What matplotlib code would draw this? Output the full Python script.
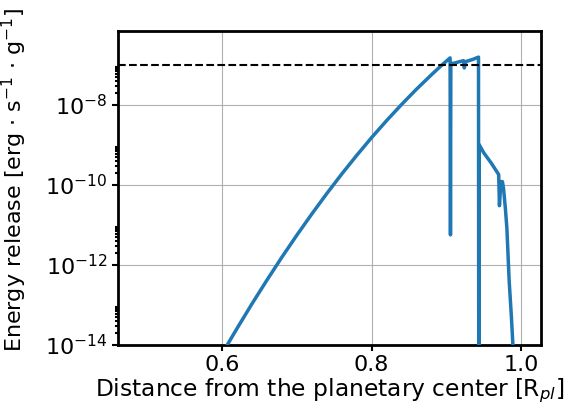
import matplotlib
matplotlib.use("Agg")
import matplotlib.pyplot as plt
from matplotlib.ticker import FixedLocator, NullFormatter

# distance from planetary center [R_pl]
distance = [0.607, 0.620, 0.640, 0.660, 0.680, 0.700, 0.720, 0.740, 0.760,
            0.780, 0.800, 0.820, 0.840, 0.860, 0.880, 0.895, 0.905,
            0.9055, 0.906, 0.911, 0.916, 0.923, 0.924, 0.926, 0.935, 0.943,
            0.9435, 0.944, 0.950, 0.960, 0.970, 0.971, 0.973, 0.975, 0.9765,
            0.979, 0.981, 0.984, 0.987, 0.989, 0.990]
# energy release [erg s^-1 g^-1]
energy = [1.0e-14, 2.57e-14, 1.06e-13, 4.14e-13, 1.55e-12, 5.5e-12, 1.86e-11, 6.0e-11, 1.85e-10,
          5.4e-10, 1.51e-9, 4.0e-9, 1.01e-8, 2.44e-8, 5.6e-8, 1.02e-7, 1.48e-7,
          5.6e-12, 1.07e-7, 1.1e-7, 1.17e-7, 1.26e-7, 8.3e-8, 1.2e-7, 1.35e-7, 1.55e-7,
          1e-20, 1.0e-9, 6.3e-10, 3.5e-10, 1.8e-10, 3.0e-11, 1.2e-10, 1.2e-10, 8.0e-11,
          2.5e-11, 8.0e-12, 4.0e-13, 5.0e-14, 1.0e-14, 1e-16]
threshold = 1e-7
x_ticks = [0.6, 0.8, 1.0]

fig, ax = plt.subplots(figsize=(5.68, 4.12), dpi=100)
ax.plot(distance, energy, color='#1f77b4', lw=2.5, zorder=3)
ax.axhline(threshold, color='black', ls='--', lw=1.5, zorder=4)
ax.set_yscale('log')
ax.set_xlim(0.461, 1.027)
ax.set_ylim(1e-14, 7e-7)
ax.set_xticks(x_ticks)
minors = [m * 10.0 ** k for k in (-14, -12, -10, -8, -6) for m in range(2, 10)]
ax.yaxis.set_minor_locator(FixedLocator(minors))
ax.yaxis.set_minor_formatter(NullFormatter())
ax.grid(True, color='#b0b0b0', lw=0.8)
for s in ax.spines.values():
    s.set_linewidth(2)
ax.tick_params(which='major', labelsize=16, width=1.5, length=4)
ax.tick_params(which='minor', width=1.5, length=2)
ax.set_xlabel('Distance from the planetary center [R$_{pl}$]', fontsize=16.8, labelpad=1)
ax.set_ylabel(r'Energy release [erg $\cdot$ s$^{-1}$ $\cdot$ g$^{-1}$]', fontsize=16)
ax.yaxis.set_label_coords(-0.21, 0.525)
fig.subplots_adjust(left=0.208, right=0.953, top=0.925, bottom=0.163)
fig.savefig('out.png', dpi=100)
